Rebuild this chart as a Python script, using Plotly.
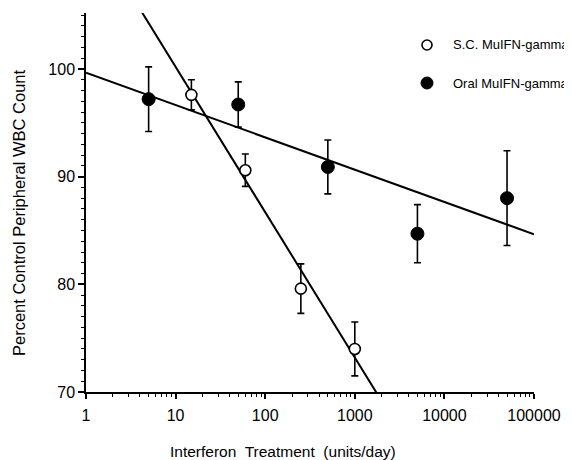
import numpy as np
import plotly.graph_objects as go

# ---- data ----
oral_dose = [5, 50, 500, 5000, 50000]
oral_pct = [97.2, 96.7, 90.9, 84.7, 88.0]
oral_err = [3.0, 2.1, 2.5, 2.7, 4.4]

sc_dose = [15, 60, 250, 1000]
sc_pct = [97.6, 90.6, 79.6, 74.0]
sc_err = [1.4, 1.5, 2.3, 2.5]

# regression lines: pct = intercept + slope * log10(dose)
oral_fit = (99.65, -3.0)
sc_fit = (113.7, -13.5)

x_ticks = [1, 10, 100, 1000, 10000, 100000]
x_tick_labels = ["1", "10", "100", "1000", "10000", "100000"]
y_ticks = [70, 80, 90, 100]
x_range = (1, 100000)
y_range = (70, 105.2)

sc_name = "S.C. MuIFN-gamma"
oral_name = "Oral MuIFN-gamma"
x_title = "Interferon  Treatment  (units/day)"
y_title = "Percent Control Peripheral WBC Count"

FONT = "Liberation Sans, Arial, Helvetica, sans-serif"

fit_x = np.array(x_range, dtype=float)


def fit_line(coef):
    return coef[0] + coef[1] * np.log10(fit_x)


fig = go.Figure()

fig.add_trace(go.Scatter(x=fit_x, y=fit_line(oral_fit), mode="lines",
                         line=dict(color="black", width=2), showlegend=False,
                         hoverinfo="skip"))
fig.add_trace(go.Scatter(x=fit_x, y=fit_line(sc_fit), mode="lines",
                         line=dict(color="black", width=2), showlegend=False,
                         hoverinfo="skip"))

fig.add_trace(go.Scatter(
    x=oral_dose, y=oral_pct, mode="markers", name=oral_name, showlegend=False,
    marker=dict(symbol="circle", size=13, color="black",
                line=dict(color="black", width=1)),
    error_y=dict(type="data", array=oral_err, visible=True, color="black",
                 thickness=1.6, width=3.5)))

fig.add_trace(go.Scatter(
    x=sc_dose, y=sc_pct, mode="markers", name=sc_name, showlegend=False,
    marker=dict(symbol="circle", size=11, color="white",
                line=dict(color="black", width=1.6)),
    error_y=dict(type="data", array=sc_err, visible=True, color="black",
                 thickness=1.6, width=3.5)))

minor_x = [m * 10 ** d for d in range(0, 5) for m in range(2, 10)]

fig.update_xaxes(
    type="log", range=[np.log10(x_range[0]), np.log10(x_range[1])],
    tickvals=x_ticks, ticktext=x_tick_labels,
    ticks="outside", ticklen=5, tickwidth=1.5, tickcolor="black",
    showline=True, linecolor="black", linewidth=1.5,
    showgrid=False, zeroline=False,
    minor=dict(tickvals=minor_x, ticks="outside", ticklen=3, tickwidth=1,
               tickcolor="black", showgrid=False),
    tickfont=dict(family=FONT, size=16, color="black"),
    ticklabelstandoff=3,
)
fig.update_yaxes(
    range=list(y_range), tickvals=y_ticks,
    ticks="outside", ticklen=6, tickwidth=1.5, tickcolor="black",
    showline=True, linecolor="black", linewidth=1.5,
    showgrid=False, zeroline=False,
    minor=dict(dtick=1, ticks="outside", ticklen=3, tickwidth=1,
               tickcolor="black", showgrid=False),
    tickfont=dict(family=FONT, size=16, color="black"),
)

# page body has an 8px margin; the figure is placed at (8, 8) in the window
OFF = 8
W, H = 572 - OFF, 460 - OFF
L, R, T, B = 86 - OFF, 38, 13 - OFF, 68
pw, ph = W - L - R, H - T - B


def px_x(p):
    return (p - OFF - L) / pw


def px_y(p):
    return (H - B + OFF - p) / ph


annotations = [
    dict(text=y_title, x=px_x(19), y=px_y(213), xref="paper", yref="paper",
         textangle=-90, showarrow=False, xanchor="center", yanchor="middle",
         font=dict(family=FONT, size=16.5, color="black")),
    dict(text=x_title.replace("  ", "\u00a0 "), x=px_x(283), y=px_y(451),
         xref="paper", yref="paper", showarrow=False,
         xanchor="center", yanchor="middle",
         font=dict(family=FONT, size=15.5, color="black")),
    dict(text=sc_name, x=px_x(451), y=px_y(45), xref="paper", yref="paper",
         showarrow=False, xanchor="left", yanchor="middle",
         font=dict(family=FONT, size=13, color="black")),
    dict(text=oral_name, x=px_x(451), y=px_y(83), xref="paper", yref="paper",
         showarrow=False, xanchor="left", yanchor="middle",
         font=dict(family=FONT, size=13, color="black")),
]

shapes = [
    dict(type="circle", xref="paper", yref="paper", xsizemode="pixel",
         ysizemode="pixel", xanchor=px_x(427), yanchor=px_y(45),
         x0=-5, x1=5, y0=-5, y1=5, line=dict(color="black", width=1.6),
         fillcolor="white"),
    dict(type="circle", xref="paper", yref="paper", xsizemode="pixel",
         ysizemode="pixel", xanchor=px_x(427), yanchor=px_y(83),
         x0=-6, x1=6, y0=-6, y1=6, line=dict(color="black", width=1),
         fillcolor="black"),
]

fig.update_layout(
    width=W, height=H,
    margin=dict(l=L, r=R, t=T, b=B, pad=0),
    plot_bgcolor="white", paper_bgcolor="white",
    showlegend=False,
    annotations=annotations, shapes=shapes,
    font=dict(family=FONT, color="black"),
)

fig.write_html("out.html")
